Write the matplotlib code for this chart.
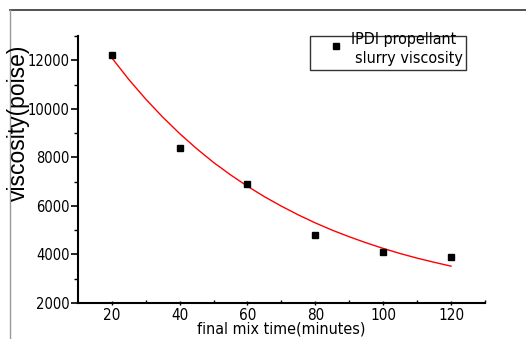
import matplotlib
matplotlib.use("Agg")
import matplotlib.pyplot as plt
from matplotlib.lines import Line2D
from matplotlib.patches import Rectangle

# measured points
mix_time = [20, 40, 60, 80, 100, 120]
viscosity = [12200, 8400, 6900, 4800, 4120, 3880]

# red fit curve
fit_time = [20, 25, 30, 35, 40, 45, 50, 55, 60, 65, 70,
            75, 80, 85, 90, 95, 100, 105, 110, 115, 120]
fit_visc = [12100, 11210, 10400, 9660, 8980, 8360, 7790, 7280, 6810, 6380, 5990,
            5630, 5300, 5000, 4730, 4480, 4250, 4040, 3850, 3680, 3520]

narrow = ["DejaVu Sans"]
wide = ["Liberation Sans", "DejaVu Sans"]

fig = plt.figure(figsize=(5.26, 3.39), dpi=100)
ax = fig.add_axes([0.148, 0.106, 0.774, 0.788])

ax.plot(fit_time, fit_visc, color="red", lw=1.0)
ax.plot(mix_time, viscosity, "s", color="black", ms=5)

ax.set_xlim(10, 130)
ax.set_ylim(2000, 13000)
ax.set_xticks([20, 40, 60, 80, 100, 120])
ax.set_xticks([30, 50, 70, 90, 110, 130], minor=True)
ax.set_yticks([2000, 4000, 6000, 8000, 10000, 12000])
ax.set_yticks([3000, 5000, 7000, 9000, 11000, 13000], minor=True)

for s in ["top", "right"]:
    ax.spines[s].set_visible(False)
ax.spines["left"].set_linewidth(1.5)
ax.spines["bottom"].set_linewidth(1.5)

ax.tick_params(axis="y", which="major", direction="out", length=5, width=1.2, pad=1)
ax.tick_params(axis="y", which="minor", direction="out", length=3, width=1.0)
ax.tick_params(axis="x", which="major", direction="inout", length=3, width=1.0, pad=2)
ax.tick_params(axis="x", which="minor", direction="in", length=2, width=1.0)
for lab in ax.get_xticklabels():
    lab.set_family(narrow)
    lab.set_stretch("condensed")
    lab.set_fontsize(11)
for lab in ax.get_yticklabels():
    lab.set_family(narrow)
    lab.set_stretch("condensed")
    lab.set_fontsize(10.5)

ax.set_xlabel("final mix time(minutes)", family=narrow, stretch="condensed",
              fontsize=11.5, labelpad=-1)
fig.text(0.035, 0.637, "viscosity(poise)", family=wide, fontsize=16.5,
         rotation=90, ha="center", va="center")

# legend drawn by hand, the text spills over the box like in the original
ax.add_patch(Rectangle((0.570, 0.873), 0.383, 0.127, transform=ax.transAxes,
                       fill=False, ec="#333333", lw=1.0, clip_on=False))
ax.plot([0.634], [0.964], "s", color="black", ms=5, transform=ax.transAxes, clip_on=False)
ax.text(0.799, 0.987, "IPDI propellant", transform=ax.transAxes, family=narrow,
        stretch="condensed", fontsize=11.5, ha="center", va="center")
ax.text(0.814, 0.916, "slurry viscosity", transform=ax.transAxes, family=narrow,
        stretch="condensed", fontsize=11.5, ha="center", va="center")

# outer frame lines (top and left)
fig.add_artist(Line2D([0.019, 1.0], [0.971, 0.971], color="#333333", lw=1.2))
fig.add_artist(Line2D([0.019, 0.019], [0.0, 0.971], color="#999999", lw=1.0))

fig.savefig("out.png", dpi=100)
